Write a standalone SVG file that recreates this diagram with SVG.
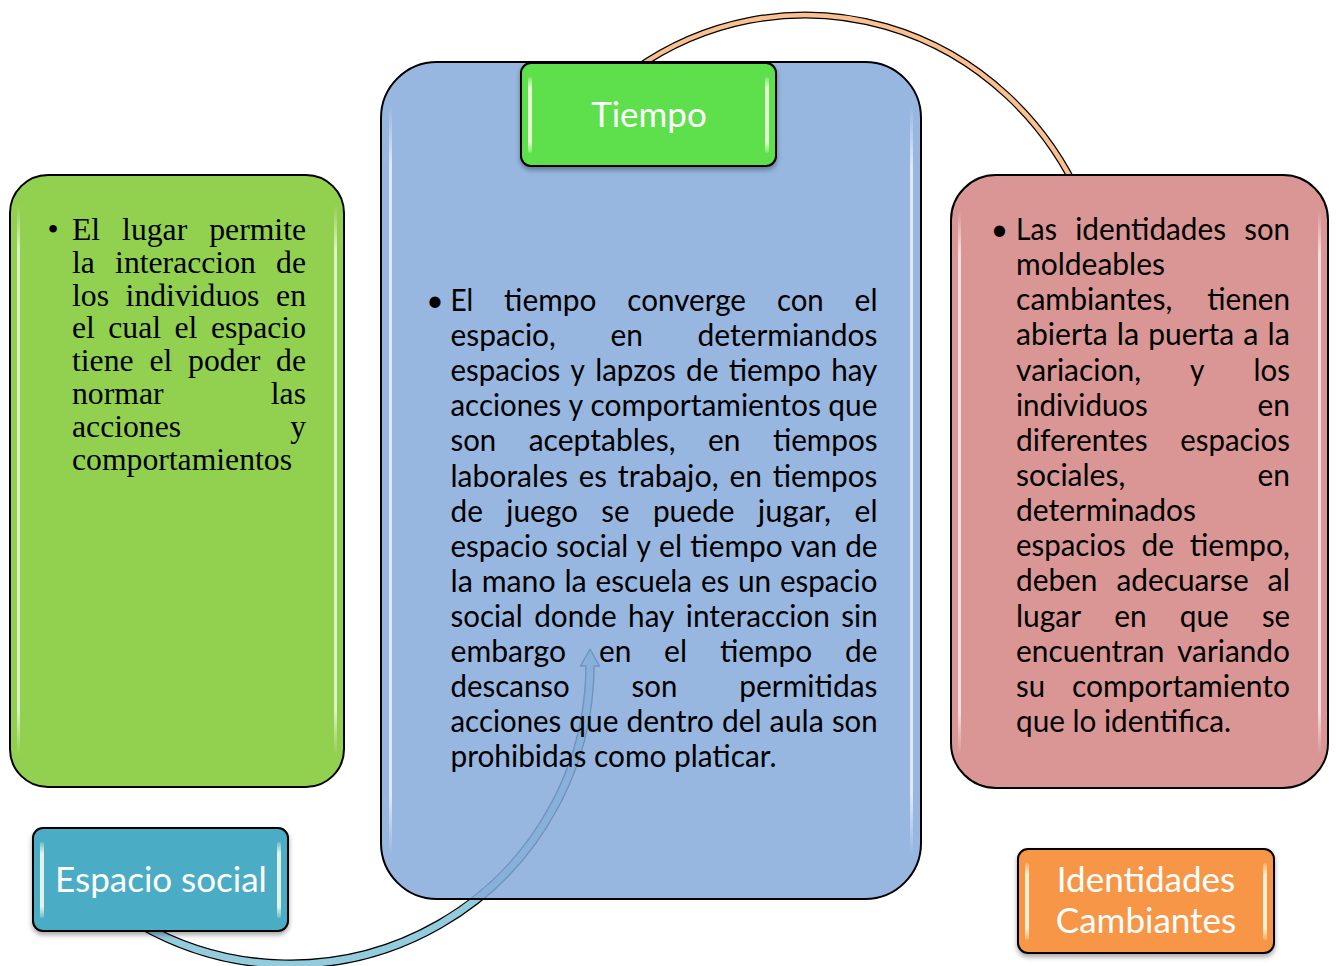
<svg xmlns="http://www.w3.org/2000/svg" width="1337" height="966" viewBox="0 0 1337 966">
<defs>
<style>
.sans{font-family:Lato,'Liberation Sans',sans-serif;font-size:30px;fill:#000}
.serif{font-family:'Liberation Serif',serif;font-size:31.7px;fill:#000}
.lbl{font-family:Lato,'Liberation Sans',sans-serif;font-size:35px;fill:#fff;text-anchor:middle}
.m{text-anchor:middle}
.e{text-anchor:end}
.panel{stroke:#000;stroke-width:2}
.box{stroke:#000;stroke-width:2;filter:url(#sh)}
.hl{fill:url(#hlg)}
.bhl{fill:url(#bhlg)}
</style>
<linearGradient id="hlg" x1="0" y1="0" x2="0" y2="1">
<stop offset="0" stop-color="#fff" stop-opacity="0"/>
<stop offset="0.08" stop-color="#fff" stop-opacity="0.7"/>
<stop offset="0.92" stop-color="#fff" stop-opacity="0.7"/>
<stop offset="1" stop-color="#fff" stop-opacity="0"/>
</linearGradient>
<linearGradient id="bhlg" x1="0" y1="0" x2="0" y2="1">
<stop offset="0" stop-color="#ffffe8" stop-opacity="0.2"/>
<stop offset="0.15" stop-color="#ffffe8" stop-opacity="0.85"/>
<stop offset="0.85" stop-color="#ffffe8" stop-opacity="0.85"/>
<stop offset="1" stop-color="#ffffe8" stop-opacity="0.2"/>
</linearGradient>
<filter id="sh" x="-10%" y="-10%" width="120%" height="130%">
<feDropShadow dx="0" dy="3" stdDeviation="2.5" flood-color="#000" flood-opacity="0.35"/>
</filter>
</defs>
<rect width="1337" height="966" fill="#fff"/>

<g id="connectors">
<path d="M634,70 A305,320 0 0 1 1081.5,200" fill="none" stroke="#000" stroke-width="7"/>
<path d="M634,70 A305,320 0 0 1 1081.5,200" fill="none" stroke="#FAC090" stroke-width="4.5"/>
<path d="M140,924 A300,300 0 0 0 590,667" fill="none" stroke="#000" stroke-width="9.5"/>
<polygon points="580.5,666 599.5,666 590,649" fill="#93CDDD" stroke="#000" stroke-width="1.3" stroke-linejoin="round"/>
<path d="M140,924 A300,300 0 0 0 590,664" fill="none" stroke="#93CDDD" stroke-width="6.8"/>
</g>

<g id="panel-espacio-social">
<rect class="panel" x="10" y="175" width="334" height="612" rx="38" fill="#92D050"/>
<rect class="hl" x="17" y="205" width="3" height="550" rx="1.5"/>
<rect class="hl" x="334" y="205" width="3" height="550" rx="1.5"/>
<text class="serif" y="240"><tspan x="53" class="m">•</tspan><tspan x="72">El</tspan><tspan x="122.1">lugar</tspan><tspan x="306" class="e">permite</tspan></text>
<text class="serif" y="272.8"><tspan x="72">la</tspan><tspan x="115.1">interaccion</tspan><tspan x="306" class="e">de</tspan></text>
<text class="serif" y="305.6"><tspan x="72">los</tspan><tspan x="125.6">individuos</tspan><tspan x="306" class="e">en</tspan></text>
<text class="serif" y="338.4"><tspan x="72">el</tspan><tspan x="108.3">cual</tspan><tspan x="174.5">el</tspan><tspan x="306" class="e">espacio</tspan></text>
<text class="serif" y="371.2"><tspan x="72">tiene</tspan><tspan x="149.4">el</tspan><tspan x="188.1">poder</tspan><tspan x="306" class="e">de</tspan></text>
<text class="serif" y="404"><tspan x="72">normar</tspan><tspan x="306" class="e">las</tspan></text>
<text class="serif" y="436.8"><tspan x="72">acciones</tspan><tspan x="306" class="e">y</tspan></text>
<text class="serif" y="469.6" x="72">comportamientos</text>
</g>

<g id="panel-tiempo">
<rect class="panel" x="381" y="62" width="540" height="837" rx="56" fill="#85AADB" fill-opacity="0.85"/>
<rect class="hl" x="389" y="105" width="3" height="750" rx="1.5"/>
<rect class="hl" x="910" y="105" width="3" height="750" rx="1.5"/>
<g class="sans">
<text x="435" y="311" class="m">•</text>
<text x="450.5" y="311" textLength="22.7" lengthAdjust="spacingAndGlyphs">El</text>
<text x="504.1" y="311" textLength="92.3" lengthAdjust="spacingAndGlyphs">tiempo</text>
<text x="627.3" y="311" textLength="118.7" lengthAdjust="spacingAndGlyphs">converge</text>
<text x="776.9" y="311" textLength="46.8" lengthAdjust="spacingAndGlyphs">con</text>
<text x="854.6" y="311" textLength="23" lengthAdjust="spacingAndGlyphs">el</text>

<text x="450.5" y="346.1" textLength="105.3" lengthAdjust="spacingAndGlyphs">espacio,</text>
<text x="610.4" y="346.1" textLength="32.4" lengthAdjust="spacingAndGlyphs">en</text>
<text x="697.4" y="346.1" textLength="180.1" lengthAdjust="spacingAndGlyphs">determiandos</text>

<text x="450.5" y="381.2" textLength="109.8" lengthAdjust="spacingAndGlyphs">espacios</text>
<text x="570.5" y="381.2" textLength="14.4" lengthAdjust="spacingAndGlyphs">y</text>
<text x="595.2" y="381.2" textLength="80.7" lengthAdjust="spacingAndGlyphs">lapzos</text>
<text x="686.1" y="381.2" textLength="32.4" lengthAdjust="spacingAndGlyphs">de</text>
<text x="728.7" y="381.2" textLength="92.3" lengthAdjust="spacingAndGlyphs">tiempo</text>
<text x="831.2" y="381.2" textLength="46.2" lengthAdjust="spacingAndGlyphs">hay</text>

<text x="450.5" y="416.3" textLength="110.8" lengthAdjust="spacingAndGlyphs">acciones</text>
<text x="568.7" y="416.3" textLength="14.4" lengthAdjust="spacingAndGlyphs">y</text>
<text x="590.5" y="416.3" textLength="230.4" lengthAdjust="spacingAndGlyphs">comportamientos</text>
<text x="828.3" y="416.3" textLength="49.1" lengthAdjust="spacingAndGlyphs">que</text>

<text x="450.5" y="451.4" textLength="45.7" lengthAdjust="spacingAndGlyphs">son</text>
<text x="528.7" y="451.4" textLength="146.8" lengthAdjust="spacingAndGlyphs">aceptables,</text>
<text x="708" y="451.4" textLength="32.4" lengthAdjust="spacingAndGlyphs">en</text>
<text x="772.9" y="451.4" textLength="104.7" lengthAdjust="spacingAndGlyphs">tiempos</text>

<text x="450.5" y="486.5" textLength="117.5" lengthAdjust="spacingAndGlyphs">laborales</text>
<text x="578.8" y="486.5" textLength="28.2" lengthAdjust="spacingAndGlyphs">es</text>
<text x="617.8" y="486.5" textLength="100.9" lengthAdjust="spacingAndGlyphs">trabajo,</text>
<text x="729.5" y="486.5" textLength="32.4" lengthAdjust="spacingAndGlyphs">en</text>
<text x="772.7" y="486.5" textLength="104.7" lengthAdjust="spacingAndGlyphs">tiempos</text>

<text x="450.5" y="521.6" textLength="32.4" lengthAdjust="spacingAndGlyphs">de</text>
<text x="506.3" y="521.6" textLength="71.6" lengthAdjust="spacingAndGlyphs">juego</text>
<text x="601.3" y="521.6" textLength="28.2" lengthAdjust="spacingAndGlyphs">se</text>
<text x="652.9" y="521.6" textLength="81.5" lengthAdjust="spacingAndGlyphs">puede</text>
<text x="757.8" y="521.6" textLength="73.3" lengthAdjust="spacingAndGlyphs">jugar,</text>
<text x="854.5" y="521.6" textLength="23" lengthAdjust="spacingAndGlyphs">el</text>

<text x="450.5" y="556.7" textLength="97.4" lengthAdjust="spacingAndGlyphs">espacio</text>
<text x="556.1" y="556.7" textLength="72.2" lengthAdjust="spacingAndGlyphs">social</text>
<text x="636.5" y="556.7" textLength="14.4" lengthAdjust="spacingAndGlyphs">y</text>
<text x="659.1" y="556.7" textLength="23" lengthAdjust="spacingAndGlyphs">el</text>
<text x="690.3" y="556.7" textLength="92.3" lengthAdjust="spacingAndGlyphs">tiempo</text>
<text x="790.8" y="556.7" textLength="46.2" lengthAdjust="spacingAndGlyphs">van</text>
<text x="845.2" y="556.7" textLength="32.4" lengthAdjust="spacingAndGlyphs">de</text>

<text x="450.5" y="591.8" textLength="22.4" lengthAdjust="spacingAndGlyphs">la</text>
<text x="481.7" y="591.8" textLength="73.9" lengthAdjust="spacingAndGlyphs">mano</text>
<text x="564.4" y="591.8" textLength="22.4" lengthAdjust="spacingAndGlyphs">la</text>
<text x="595.6" y="591.8" textLength="96.5" lengthAdjust="spacingAndGlyphs">escuela</text>
<text x="700.9" y="591.8" textLength="28.2" lengthAdjust="spacingAndGlyphs">es</text>
<text x="737.9" y="591.8" textLength="33.3" lengthAdjust="spacingAndGlyphs">un</text>
<text x="780" y="591.8" textLength="97.4" lengthAdjust="spacingAndGlyphs">espacio</text>

<text x="450.5" y="626.9" textLength="72.2" lengthAdjust="spacingAndGlyphs">social</text>
<text x="534.2" y="626.9" textLength="82.4" lengthAdjust="spacingAndGlyphs">donde</text>
<text x="628.1" y="626.9" textLength="46.2" lengthAdjust="spacingAndGlyphs">hay</text>
<text x="685.8" y="626.9" textLength="144" lengthAdjust="spacingAndGlyphs">interaccion</text>
<text x="841.3" y="626.9" textLength="36.3" lengthAdjust="spacingAndGlyphs">sin</text>

<text x="450.5" y="662" textLength="115.6" lengthAdjust="spacingAndGlyphs">embargo</text>
<text x="598.9" y="662" textLength="32.4" lengthAdjust="spacingAndGlyphs">en</text>
<text x="664.1" y="662" textLength="23" lengthAdjust="spacingAndGlyphs">el</text>
<text x="719.9" y="662" textLength="92.3" lengthAdjust="spacingAndGlyphs">tiempo</text>
<text x="845" y="662" textLength="32.4" lengthAdjust="spacingAndGlyphs">de</text>

<text x="450.5" y="697.1" textLength="119.2" lengthAdjust="spacingAndGlyphs">descanso</text>
<text x="631.6" y="697.1" textLength="45.7" lengthAdjust="spacingAndGlyphs">son</text>
<text x="739.3" y="697.1" textLength="138.2" lengthAdjust="spacingAndGlyphs">permitidas</text>

<text x="450.5" y="732.2" textLength="110.8" lengthAdjust="spacingAndGlyphs">acciones</text>
<text x="569.3" y="732.2" textLength="49.1" lengthAdjust="spacingAndGlyphs">que</text>
<text x="626.4" y="732.2" textLength="87.5" lengthAdjust="spacingAndGlyphs">dentro</text>
<text x="721.9" y="732.2" textLength="39.7" lengthAdjust="spacingAndGlyphs">del</text>
<text x="769.6" y="732.2" textLength="54.3" lengthAdjust="spacingAndGlyphs">aula</text>
<text x="831.9" y="732.2" textLength="45.7" lengthAdjust="spacingAndGlyphs">son</text>

<text x="450.5" y="767.3" textLength="326" lengthAdjust="spacingAndGlyphs">prohibidas como platicar.</text>
</g>
</g>

<g id="panel-identidades">
<rect class="panel" x="951" y="175" width="377" height="613" rx="45" fill="#D99694"/>
<rect class="hl" x="958" y="210" width="3" height="545" rx="1.5"/>
<rect class="hl" x="1318" y="210" width="3" height="545" rx="1.5"/>
<g class="sans">
<text x="999.5" y="240" class="m">•</text>
<text x="1016" y="240" textLength="40.9" lengthAdjust="spacingAndGlyphs">Las</text>
<text x="1075.2" y="240" textLength="150.9" lengthAdjust="spacingAndGlyphs">identidades</text>
<text x="1244.3" y="240" textLength="45.7" lengthAdjust="spacingAndGlyphs">son</text>

<text x="1016" y="275.1" textLength="149" lengthAdjust="spacingAndGlyphs">moldeables</text>

<text x="1016" y="310.3" textLength="156.4" lengthAdjust="spacingAndGlyphs">cambiantes,</text>
<text x="1207.3" y="310.3" textLength="82.7" lengthAdjust="spacingAndGlyphs">tienen</text>

<text x="1016" y="345.4" textLength="91.7" lengthAdjust="spacingAndGlyphs">abierta</text>
<text x="1116.8" y="345.4" textLength="22.4" lengthAdjust="spacingAndGlyphs">la</text>
<text x="1148.3" y="345.4" textLength="85.9" lengthAdjust="spacingAndGlyphs">puerta</text>
<text x="1243.3" y="345.4" textLength="15.2" lengthAdjust="spacingAndGlyphs">a</text>
<text x="1267.6" y="345.4" textLength="22.4" lengthAdjust="spacingAndGlyphs">la</text>

<text x="1016" y="380.6" textLength="125" lengthAdjust="spacingAndGlyphs">variacion,</text>
<text x="1190.1" y="380.6" textLength="14.4" lengthAdjust="spacingAndGlyphs">y</text>
<text x="1253.6" y="380.6" textLength="36.4" lengthAdjust="spacingAndGlyphs">los</text>

<text x="1016" y="415.7" textLength="131.8" lengthAdjust="spacingAndGlyphs">individuos</text>
<text x="1257.6" y="415.7" textLength="32.4" lengthAdjust="spacingAndGlyphs">en</text>

<text x="1016" y="450.8" textLength="131.7" lengthAdjust="spacingAndGlyphs">diferentes</text>
<text x="1180.2" y="450.8" textLength="109.8" lengthAdjust="spacingAndGlyphs">espacios</text>

<text x="1016" y="486" textLength="109.3" lengthAdjust="spacingAndGlyphs">sociales,</text>
<text x="1257.6" y="486" textLength="32.4" lengthAdjust="spacingAndGlyphs">en</text>

<text x="1016" y="521.1" textLength="180.1" lengthAdjust="spacingAndGlyphs">determinados</text>

<text x="1016" y="556.3" textLength="109.8" lengthAdjust="spacingAndGlyphs">espacios</text>
<text x="1141.6" y="556.3" textLength="32.4" lengthAdjust="spacingAndGlyphs">de</text>
<text x="1189.7" y="556.3" textLength="100.3" lengthAdjust="spacingAndGlyphs">tiempo,</text>

<text x="1016" y="591.4" textLength="81.5" lengthAdjust="spacingAndGlyphs">deben</text>
<text x="1116.5" y="591.4" textLength="132.1" lengthAdjust="spacingAndGlyphs">adecuarse</text>
<text x="1267.6" y="591.4" textLength="22.4" lengthAdjust="spacingAndGlyphs">al</text>

<text x="1016" y="626.5" textLength="65.1" lengthAdjust="spacingAndGlyphs">lugar</text>
<text x="1114.2" y="626.5" textLength="32.4" lengthAdjust="spacingAndGlyphs">en</text>
<text x="1179.7" y="626.5" textLength="49.1" lengthAdjust="spacingAndGlyphs">que</text>
<text x="1261.9" y="626.5" textLength="28.2" lengthAdjust="spacingAndGlyphs">se</text>

<text x="1016" y="661.7" textLength="148.4" lengthAdjust="spacingAndGlyphs">encuentran</text>
<text x="1177" y="661.7" textLength="113" lengthAdjust="spacingAndGlyphs">variando</text>

<text x="1016" y="696.8" textLength="29" lengthAdjust="spacingAndGlyphs">su</text>
<text x="1072" y="696.8" textLength="218" lengthAdjust="spacingAndGlyphs">comportamiento</text>

<text x="1016" y="732" textLength="215" lengthAdjust="spacingAndGlyphs">que lo identifica.</text>
</g>
</g>

<g id="label-espacio-social">
<rect class="box" x="33" y="828" width="255" height="103" rx="10" fill="#4BACC6"/>
<rect class="bhl" x="40" y="842" width="4" height="76" rx="2"/>
<rect class="bhl" x="277" y="842" width="4" height="76" rx="2"/>
<text class="lbl" x="161" y="892">Espacio social</text>
</g>

<g id="label-tiempo">
<rect class="box" x="521" y="63" width="255" height="103" rx="10" fill="#5DE04B"/>
<rect class="bhl" x="528" y="77" width="4" height="76" rx="2"/>
<rect class="bhl" x="765" y="77" width="4" height="76" rx="2"/>
<text class="lbl" x="649" y="127">Tiempo</text>
</g>

<g id="label-identidades">
<rect class="box" x="1018" y="849" width="256" height="104" rx="10" fill="#F79646"/>
<rect class="bhl" x="1025" y="863" width="4" height="77" rx="2"/>
<rect class="bhl" x="1263" y="863" width="4" height="77" rx="2"/>
<text class="lbl" x="1146" y="892">Identidades</text>
<text class="lbl" x="1146" y="933">Cambiantes</text>
</g>
</svg>
